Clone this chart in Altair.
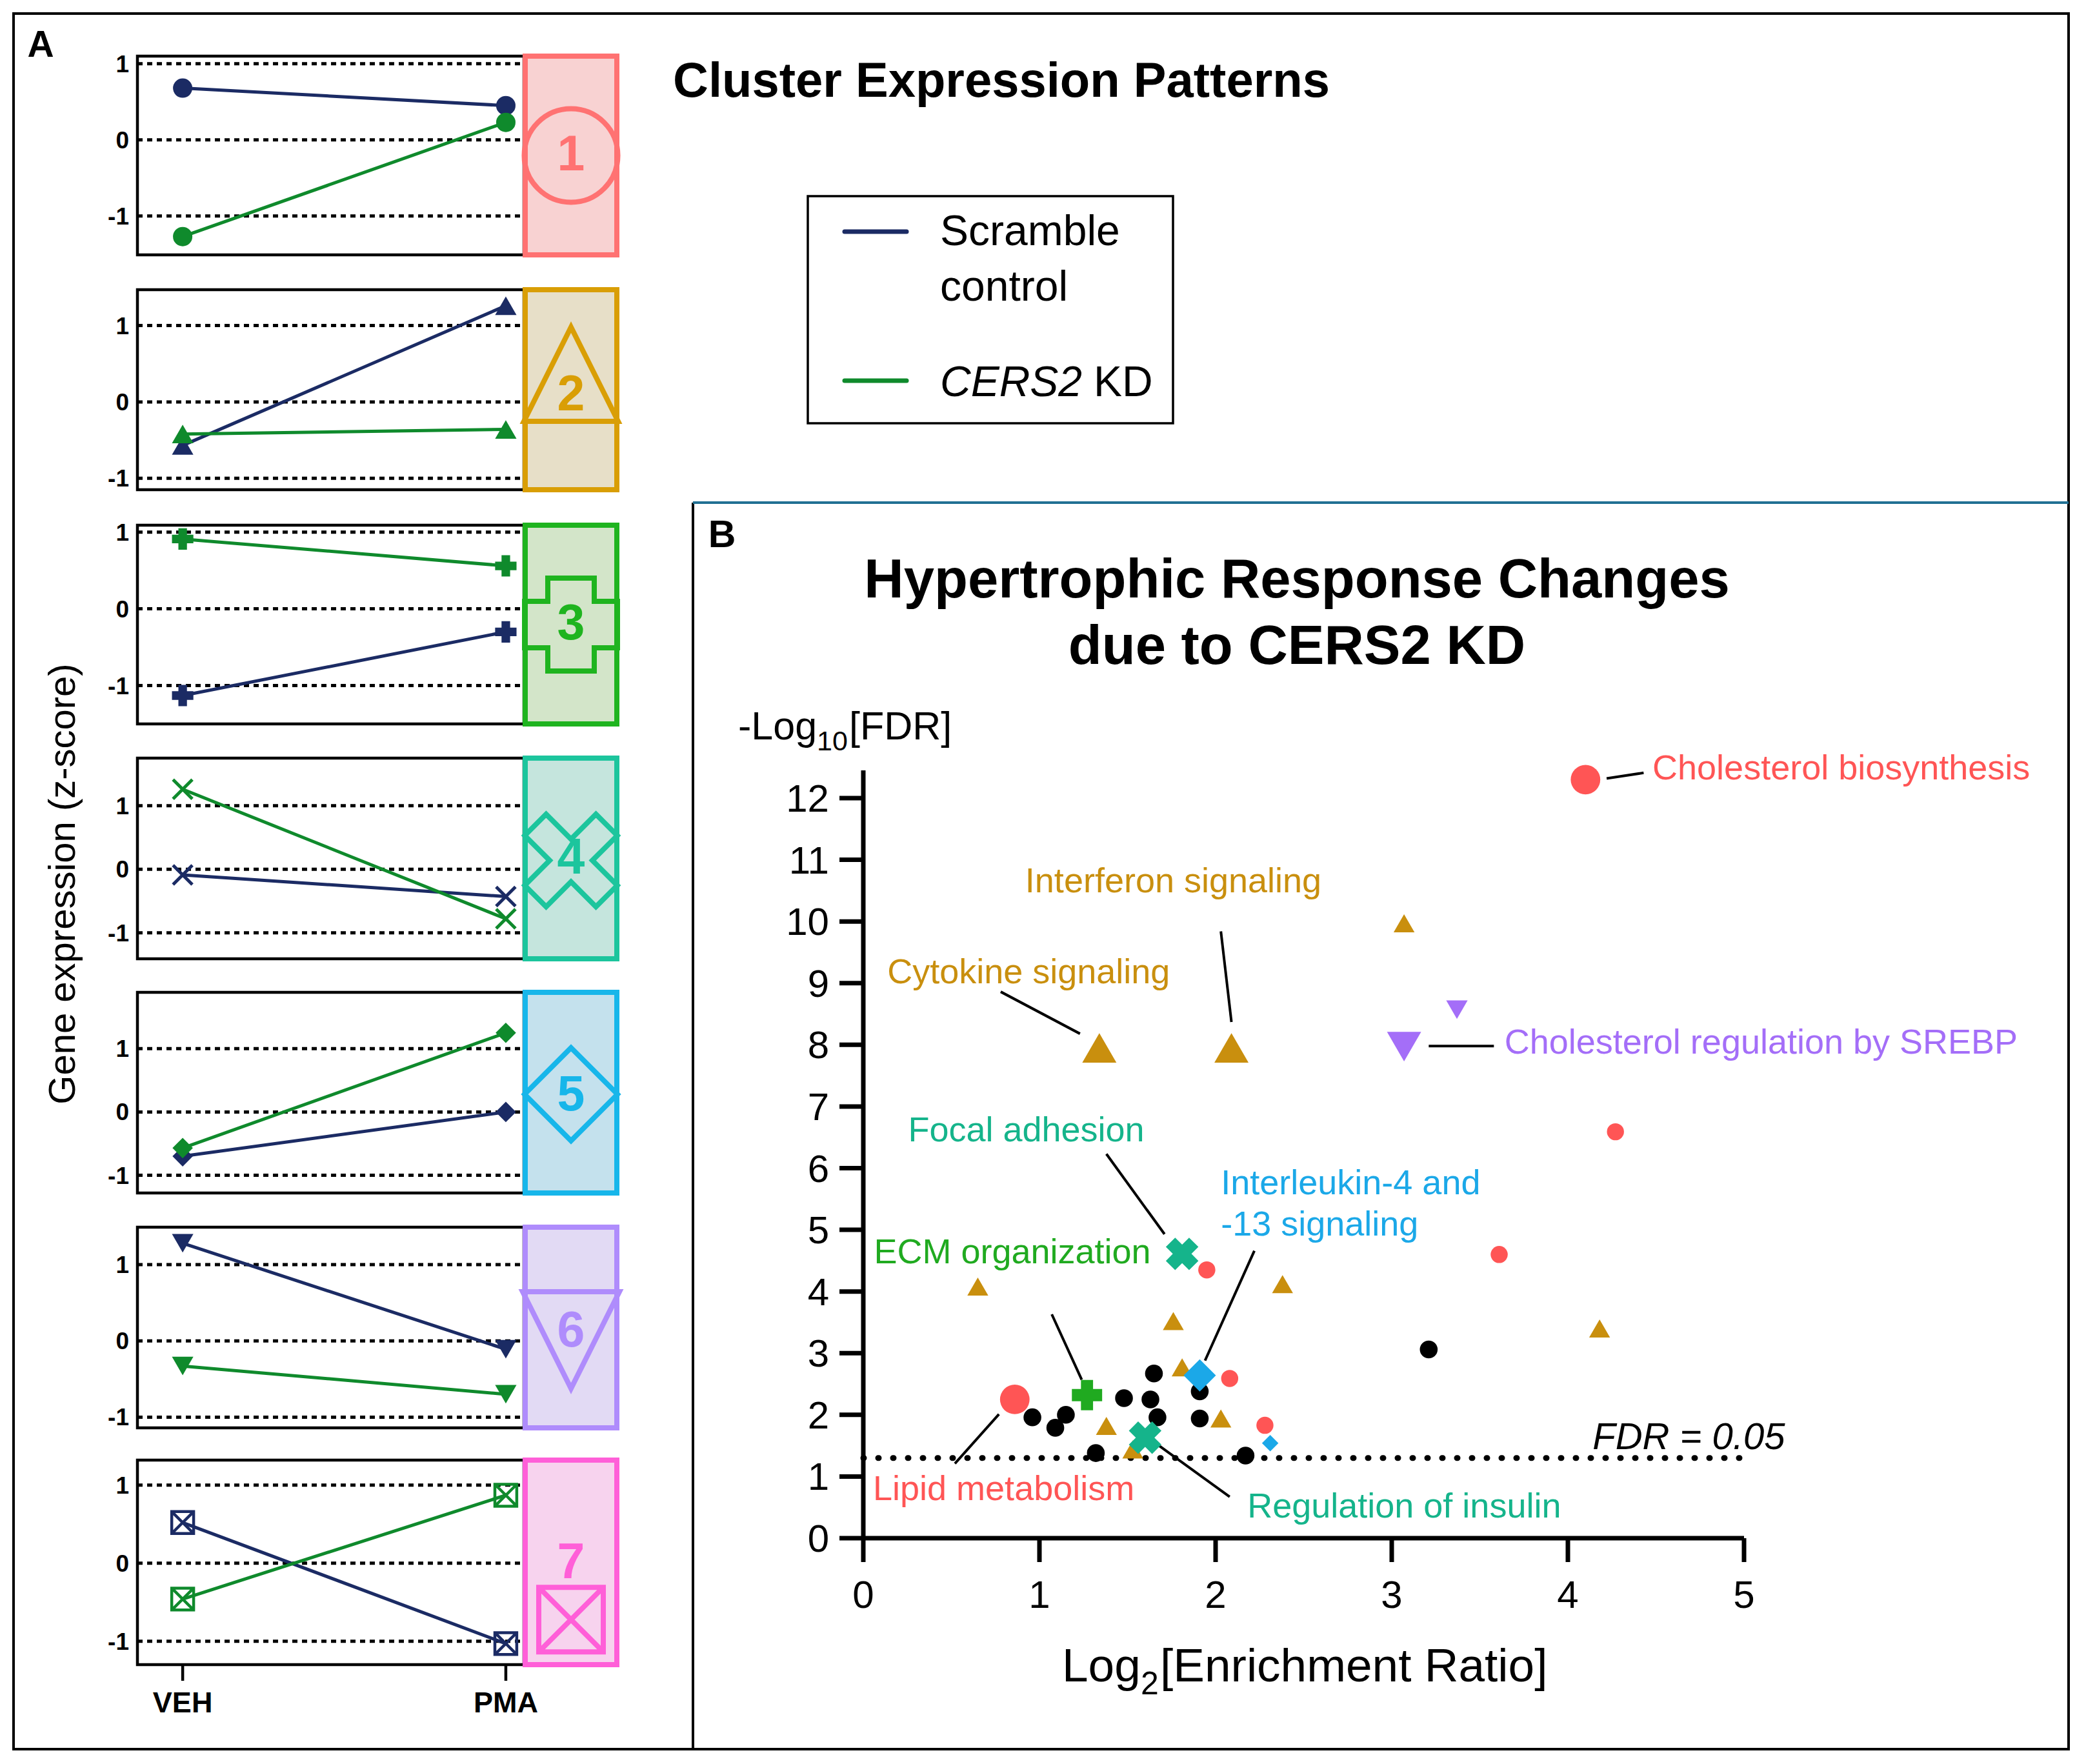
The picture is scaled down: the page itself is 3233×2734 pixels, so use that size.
import altair as alt
import pandas as pd

# ============================ DATA ============================
# Panel A: cluster expression patterns (gene expression z-scores)
CLUSTERS = ["1", "2", "3", "4", "5", "6", "7"]
CONDITIONS = ["VEH", "PMA"]
SERIES = ["Scramble control", "CERS2 KD"]
SCRAMBLE_Z = [[0.68, 0.45], [-0.57, 1.26], [-1.13, -0.30], [-0.09, -0.43],
              [-0.70, 0.00], [1.28, -0.11], [0.52, -1.03]]
CERS2_Z = [[-1.27, 0.23], [-0.42, -0.36], [0.91, 0.56], [1.26, -0.78],
           [-0.57, 1.25], [-0.33, -0.70], [-0.46, 0.87]]
Z_TICKS = [-1, 0, 1]

# Panel B: enrichment (Log2 enrichment ratio, -Log10 FDR)
BLACK_X = [3.21, 1.65, 1.91, 1.48, 1.63, 0.96, 1.15, 1.09, 1.67, 1.91, 1.32, 2.17]
BLACK_Y = [3.06, 2.67, 2.38, 2.27, 2.25, 1.96, 2.00, 1.79, 1.96, 1.94, 1.38, 1.34]
RED_X = [1.95, 3.61, 4.27, 2.08, 2.28]
RED_Y = [4.35, 4.60, 6.59, 2.59, 1.83]
ORANGE_X = [3.07, 0.65, 2.38, 1.76, 4.18, 1.81, 2.03, 1.38, 1.53]
ORANGE_Y = [9.97, 4.08, 4.12, 3.52, 3.40, 2.77, 1.94, 1.82, 1.44]
PURPLE_X = [3.37]
PURPLE_Y = [8.57]
BLUE_X = [2.31]
BLUE_Y = [1.54]

PATHWAYS = ["Cholesterol biosynthesis", "Lipid metabolism", "Cytokine signaling",
            "Interferon signaling", "Cholesterol regulation by SREBP", "Focal adhesion",
            "Regulation of insulin", "ECM organization", "Interleukin-4 and -13 signaling"]
PATHWAY_X = [4.10, 0.86, 1.34, 2.09, 3.07, 1.81, 1.60, 1.27, 1.91]
PATHWAY_Y = [12.30, 2.25, 7.95, 7.95, 7.97, 4.61, 1.63, 2.32, 2.64]
PATHWAY_GROUP = ["red", "red", "orange", "orange", "purple", "teal", "teal", "green", "blue"]

FDR_LINE = 1.30
X_TICKS_B = [0, 1, 2, 3, 4, 5]
Y_TICKS_B = list(range(13))
Y_AXIS_TOP_B = 12.45

# ====================== LAYOUT / STYLE ======================
FONT = "Liberation Sans, Arial, Helvetica, sans-serif"
NAVY = "#1B2B64"
GREEN = "#0F8A2C"
C_RED = "#FF5555"
C_ORANGE = "#C98F0E"
C_PURPLE = "#A46EF8"
C_BLUE = "#1BA8E8"
C_TEAL = "#15B48B"
C_GREEN = "#20AA20"

O = 21            # page px of the view origin
W, H = 3185, 2690


def vx(px):
    return px - O


def vy(py):
    return py - O


PLOT_L, PLOT_R = 213, 812
X_DOM_A = [-0.14, 1.056]
PANEL_TOP = [87, 449, 814, 1175, 1538, 1902, 2263]
PANEL_BOT = [395, 759, 1122, 1486, 1849, 2213, 2580]
Z_DOMAINS = [[-1.51, 1.10], [-1.15, 1.47], [-1.50, 1.09], [-1.41, 1.75],
             [-1.28, 1.89], [-1.14, 1.49], [-1.30, 1.32]]
ICON_L, ICON_R = 814, 956

MARKERS = [
    dict(shape="circle", filled=True, size=900),
    dict(shape="triangle-up", filled=True, size=1100),
    dict(shape="cross", filled=True, size=1100),
    dict(shape="M-1,-1L1,1M-1,1L1,-1", filled=False, size=900, strokeWidth=5),
    dict(shape="diamond", filled=True, size=1000),
    dict(shape="triangle-down", filled=True, size=1100),
    dict(shape="M-1,-1H1V1H-1ZM-1,-1L1,1M1,-1L-1,1", filled=False, size=1150, strokeWidth=4.5),
]

ICON_STROKE = ["#FF7272", "#D99E05", "#1FB41F", "#1CC59D", "#17B6EA", "#AF8CFC", "#FF5FD8"]
ICON_FILL = ["#F8D2D2", "#E7DFC8", "#D3E5C9", "#C5E5DD", "#C4E1ED", "#E2DAF4", "#F7D3EE"]
ICON_SHAPE = ["circle", "M0,-1L1,1L-1,1Z",
              "M-0.5,-1H0.5V-0.5H1V0.5H0.5V1H-0.5V0.5H-1V-0.5H-0.5Z",
              "M-0.3,-1H0.3V-0.3H1V0.3H0.3V1H-0.3V0.3H-1V-0.3H-0.3Z",
              "diamond", "M-1,-1L1,-1L0,1Z",
              "M-1,-1H1V1H-1ZM-1,-1L1,1M1,-1L-1,1"]
ICON_SIZE = [21025, 21316, 20736, 24336, 20736, 22500, 10000]
ICON_ANGLE = [0, 0, 0, 45, 0, 0, 0]
ICON_SHAPE_Y = [0.0, 0.155, 0.0, -0.02, -0.016, -0.125, -0.56]
ICON_NUM_Y = [0.0, -0.06, 0.0, 0.0, -0.03, -0.04, -0.01]

ONE = pd.DataFrame({"k": [0]})


def panel_a(i):
    top, bot = vy(PANEL_TOP[i]), vy(PANEL_BOT[i])
    zdom = Z_DOMAINS[i]
    xs = alt.Scale(domain=X_DOM_A, range=[vx(PLOT_L), vx(PLOT_R)], nice=False, zero=False)
    ys = alt.Scale(domain=zdom, range=[bot, top], nice=False, zero=False)
    X = lambda f: alt.X(f, scale=xs, axis=None, title=None)
    Y = lambda f: alt.Y(f, scale=ys, axis=None, title=None)

    frame_df = pd.DataFrame({"x0": [X_DOM_A[0]], "x1": [X_DOM_A[1]],
                             "y0": [zdom[0]], "y1": [zdom[1]]})
    frame = alt.Chart(frame_df).mark_rect(fillOpacity=0, stroke="black", strokeWidth=4.5).encode(
        x=X("x0:Q"), x2="x1:Q", y=Y("y0:Q"), y2="y1:Q")

    grid_df = pd.DataFrame({"z": Z_TICKS, "x0": [X_DOM_A[0]] * 3, "x1": [X_DOM_A[1]] * 3,
                            "t": [str(v) for v in Z_TICKS]})
    grid = alt.Chart(grid_df).mark_rule(color="black", strokeWidth=5, strokeDash=[8, 7]).encode(
        x=X("x0:Q"), x2="x1:Q", y=Y("z:Q"))
    ylab = alt.Chart(grid_df).mark_text(
        font=FONT, fontSize=37, fontWeight="bold", color="black", align="right",
        baseline="alphabetic", dx=-13, dy=13).encode(x=X("x0:Q"), y=Y("z:Q"), text="t:N")

    rows = []
    for s, vals in zip(SERIES, [SCRAMBLE_Z[i], CERS2_Z[i]]):
        for j, c in enumerate(CONDITIONS):
            rows.append({"series": s, "cond": c, "t": j, "z": vals[j]})
    df = pd.DataFrame(rows)
    color = alt.Color("series:N", scale=alt.Scale(domain=SERIES, range=[NAVY, GREEN]), legend=None)
    line = alt.Chart(df).mark_line(strokeWidth=5).encode(
        x=X("t:Q"), y=Y("z:Q"), color=color, detail="series:N")
    pts = alt.Chart(df).mark_point(opacity=1, **MARKERS[i]).encode(
        x=X("t:Q"), y=Y("z:Q"), color=color)
    parts = [frame, grid, ylab, line, pts]

    if i == len(CLUSTERS) - 1:
        unit = (bot - top) / (zdom[1] - zdom[0])
        xt = pd.DataFrame({"t": [0, 1], "y": [zdom[0]] * 2, "y2": [zdom[0] - 25 / unit] * 2,
                           "lab": CONDITIONS})
        ticks = alt.Chart(xt).mark_rule(color="black", strokeWidth=4.5).encode(
            x=X("t:Q"), y=Y("y:Q"), y2="y2:Q")
        labs = alt.Chart(xt).mark_text(
            font=FONT, fontSize=45, fontWeight="bold", color="black", align="center",
            baseline="alphabetic", dy=74).encode(x=X("t:Q"), y=Y("y:Q"), text="lab:N")
        parts += [ticks, labs]
    return alt.layer(*parts)


def icon(i):
    top, bot = vy(PANEL_TOP[i]), vy(PANEL_BOT[i])
    ixs = alt.Scale(domain=[-1, 1], range=[vx(ICON_L), vx(ICON_R)], nice=False, zero=False)
    iys = alt.Scale(domain=[-1, 1], range=[bot, top], nice=False, zero=False)
    box = alt.Chart(pd.DataFrame({"a": [-1], "b": [1]})).mark_rect(
        fill=ICON_FILL[i], stroke=ICON_STROKE[i], strokeWidth=8).encode(
        x=alt.X("a:Q", scale=ixs, axis=None), x2="b:Q",
        y=alt.Y("a:Q", scale=iys, axis=None), y2="b:Q")
    shp = alt.Chart(pd.DataFrame({"x": [0], "y": [ICON_SHAPE_Y[i]]})).mark_point(
        shape=ICON_SHAPE[i], size=ICON_SIZE[i], angle=ICON_ANGLE[i], filled=False,
        color=ICON_STROKE[i], strokeWidth=8, opacity=1).encode(
        x=alt.X("x:Q", scale=ixs, axis=None), y=alt.Y("y:Q", scale=iys, axis=None))
    num = alt.Chart(pd.DataFrame({"x": [0], "y": [ICON_NUM_Y[i]], "t": [CLUSTERS[i]]})).mark_text(
        font=FONT, fontSize=77, fontWeight="bold", color=ICON_STROKE[i],
        baseline="middle", align="center").encode(
        x=alt.X("x:Q", scale=ixs, axis=None), y=alt.Y("y:Q", scale=iys, axis=None), text="t:N")
    return alt.layer(box, shp, num)


# ---------------- Panel B scatter ----------------
XB0, XB5 = 1338, 2703
YB0, YBTOP = 2384, 1194
xs_b = alt.Scale(domain=[0, 5], range=[vx(XB0), vx(XB5)], nice=False, zero=False)
ys_b = alt.Scale(domain=[0, Y_AXIS_TOP_B], range=[vy(YB0), vy(YBTOP)], nice=False, zero=False)
UX = (XB5 - XB0) / 5.0
UY = (YB0 - YBTOP) / Y_AXIS_TOP_B
TICK = 37


def xy():
    return dict(x=alt.X("x:Q", scale=xs_b, axis=None, title=None),
                y=alt.Y("y:Q", scale=ys_b, axis=None, title=None))


def dots(xv, yv, shape, color, size, angle=0):
    return alt.Chart(pd.DataFrame({"x": xv, "y": yv})).mark_point(
        shape=shape, filled=True, color=color, size=size, angle=angle, opacity=1,
        strokeWidth=0).encode(**xy())


# axes of panel B (domain lines, ticks, tick labels)
ax_lines = alt.Chart(pd.DataFrame({"x": [0, 0], "y": [0, 0], "x2": [5, 0],
                                   "y2": [0, Y_AXIS_TOP_B]})).mark_rule(
    color="black", strokeWidth=7).encode(x2="x2:Q", y2="y2:Q", **xy())
xt_df = pd.DataFrame({"x": X_TICKS_B, "y": [0] * len(X_TICKS_B),
                      "y2": [-TICK / UY] * len(X_TICKS_B), "t": [str(v) for v in X_TICKS_B]})
yt_df = pd.DataFrame({"y": Y_TICKS_B, "x": [0] * len(Y_TICKS_B),
                      "x2": [-TICK / UX] * len(Y_TICKS_B), "t": [str(v) for v in Y_TICKS_B]})
x_ticks = alt.Chart(xt_df).mark_rule(color="black", strokeWidth=7).encode(y2="y2:Q", **xy())
y_ticks = alt.Chart(yt_df).mark_rule(color="black", strokeWidth=7).encode(x2="x2:Q", **xy())
x_tlabels = alt.Chart(xt_df).mark_text(
    font=FONT, fontSize=60, color="black", align="center", baseline="alphabetic",
    dy=108).encode(text="t:N", **xy())
y_tlabels = alt.Chart(yt_df).mark_text(
    font=FONT, fontSize=60, color="black", align="right", baseline="alphabetic",
    dx=-(TICK + 16), dy=21).encode(text="t:N", **xy())

fdr = alt.Chart(pd.DataFrame({"x": [0], "x2": [5], "y": [FDR_LINE]})).mark_rule(
    color="black", strokeWidth=9, strokeDash=[1, 22], strokeCap="round").encode(
    x2="x2:Q", **xy())

LEADERS = pd.DataFrame({
    "x": [4.22, 2.03, 0.78, 3.21, 1.38, 2.22, 1.07, 0.52, 1.66],
    "y": [12.32, 9.84, 8.86, 7.98, 6.23, 4.66, 3.63, 1.21, 1.54],
    "x2": [4.43, 2.09, 1.23, 3.58, 1.71, 1.94, 1.24, 0.77, 2.08],
    "y2": [12.41, 8.37, 8.18, 7.98, 4.93, 2.88, 2.57, 2.01, 0.67],
})
leaders = alt.Chart(LEADERS).mark_rule(color="black", strokeWidth=4).encode(
    x2="x2:Q", y2="y2:Q", **xy())

pw = pd.DataFrame({"name": PATHWAYS, "x": PATHWAY_X, "y": PATHWAY_Y, "g": PATHWAY_GROUP})


def big(g, shape, color, size, angle=0):
    sub = pw[pw["g"] == g]
    return dots(list(sub["x"]), list(sub["y"]), shape, color, size, angle)


ANNOT = pd.DataFrame({
    "label": ["Cholesterol biosynthesis", "Cytokine signaling", "Cholesterol regulation by SREBP",
              "Interleukin-4 and", "-13 signaling", "ECM organization", "Lipid metabolism",
              "Regulation of insulin", "Interferon signaling", "Focal adhesion"],
    "x": [4.48, 0.136, 3.64, 2.03, 2.03, 0.06, 0.055, 2.18, 1.76, 0.925],
    "y": [12.47, 9.16, 8.02, 5.74, 5.07, 4.62, 0.78, 0.50, 10.64, 6.60],
    "color": [C_RED, C_ORANGE, C_PURPLE, C_BLUE, C_BLUE, C_GREEN, C_RED, C_TEAL, C_ORANGE, C_TEAL],
    "align": ["left"] * 8 + ["center"] * 2,
})


def annot(align):
    sub = ANNOT[ANNOT["align"] == align]
    return alt.Chart(sub).mark_text(font=FONT, fontSize=54, align=align, baseline="middle").encode(
        text="label:N", color=alt.Color("color:N", scale=None), **xy())


fdr_label = alt.Chart(pd.DataFrame({"x": [4.14], "y": [1.62], "t": ["FDR = 0.05"]})).mark_text(
    font=FONT, fontSize=58, fontStyle="italic", align="left", baseline="middle",
    color="black").encode(text="t:N", **xy())

scatter = alt.layer(
    fdr, leaders, ax_lines, x_ticks, y_ticks, x_tlabels, y_tlabels,
    dots(BLACK_X, BLACK_Y, "circle", "black", 760),
    dots(RED_X, RED_Y, "circle", C_RED, 700),
    dots(ORANGE_X, ORANGE_Y, "triangle-up", C_ORANGE, 1050),
    dots(PURPLE_X, PURPLE_Y, "triangle-down", C_PURPLE, 1100),
    dots(BLUE_X, BLUE_Y, "diamond", C_BLUE, 650),
    big("red", "circle", C_RED, 2100),
    big("orange", "triangle-up", C_ORANGE, 2800),
    big("purple", "triangle-down", C_PURPLE, 2800),
    big("teal", "cross", C_TEAL, 2600, 45),
    big("green", "cross", C_GREEN, 2200),
    big("blue", "diamond", C_BLUE, 2500),
    annot("left"), annot("center"), fdr_label,
)


# ---------------- free text, legend, frames ----------------
def label(text, px, py, size, weight="normal", style="normal", align="left",
          baseline="alphabetic", color="black", angle=0):
    return alt.Chart(ONE).mark_text(
        text=text, font=FONT, fontSize=size, fontWeight=weight, fontStyle=style, align=align,
        baseline=baseline, color=color, angle=angle).encode(x=alt.value(vx(px)), y=alt.value(vy(py)))


def hrule(px0, px1, py, color, width, cap="butt"):
    return alt.Chart(ONE).mark_rule(color=color, strokeWidth=width, strokeCap=cap).encode(
        x=alt.value(vx(px0)), x2=alt.value(vx(px1)), y=alt.value(vy(py)))


b_left = alt.Chart(ONE).mark_rule(color="black", strokeWidth=4).encode(
    x=alt.value(vx(1074)), y=alt.value(vy(779)), y2=alt.value(H))
b_top = hrule(1074, 3206, 779, "#217093", 4)

legend_box = alt.Chart(ONE).mark_rect(fillOpacity=0, stroke="black", strokeWidth=3.5).encode(
    x=alt.value(vx(1252)), x2=alt.value(vx(1818)), y=alt.value(vy(304)), y2=alt.value(vy(656)))

texts = [
    label("A", 63, 88, 57, weight="bold", align="center"),
    label("B", 1119, 848, 59, weight="bold", align="center"),
    label("Cluster Expression Patterns", 1043, 150, 76, weight="bold"),
    label("Hypertrophic Response Changes", 2010, 926, 85, weight="bold", align="center"),
    label("due to CERS2 KD", 2010, 1029, 85, weight="bold", align="center"),
    label("Gene expression (z-score)", 99, 1370, 58, align="center", baseline="middle", angle=270),
    label("Scramble", 1457, 380, 66),
    label("control", 1457, 466, 66),
    label("CERS2", 1457, 614, 66, style="italic"),
    label("KD", 1695, 614, 66),
    label("-Log", 1144, 1146, 61),
    label("10", 1266, 1163, 43),
    label("[FDR]", 1316, 1146, 61),
    label("Log", 1646, 2606, 73),
    label("2", 1768, 2626, 50),
    label("[Enrichment Ratio]", 1798, 2606, 73),
]

layers = [b_left, b_top]
for i in range(len(CLUSTERS)):
    layers.append(panel_a(i))
    layers.append(icon(i))
layers.append(scatter)
layers += [legend_box,
           hrule(1309, 1405, 359, NAVY, 7, "round"),
           hrule(1309, 1405, 590, GREEN, 7, "round")]
layers += texts

chart = alt.layer(*layers).resolve_scale(
    x="independent", y="independent"
).properties(
    width=W, height=H,
    padding={"left": 13, "top": 13, "right": 13, "bottom": 13},
    autosize=alt.AutoSizeParams(type="none"),
).configure_view(
    stroke="black", strokeWidth=4
).configure_text(font=FONT)

chart.save("out.html", embed_options={"renderer": "svg", "actions": False})
